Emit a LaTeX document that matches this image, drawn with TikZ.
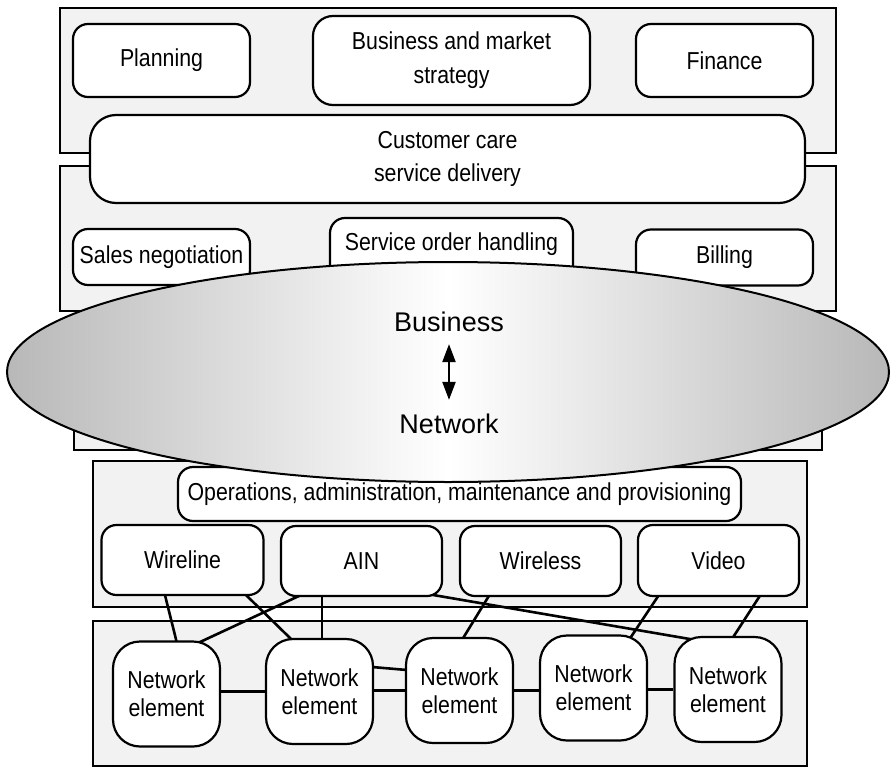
\documentclass[tikz,border=0pt]{standalone}
\usepackage{fontspec}
\setmainfont{Liberation Sans}
\newfontfamily\boxfont[FakeStretch=0.87]{Liberation Sans}
\usetikzlibrary{calc,shapes.geometric,arrows.meta}
\pgfdeclarelayer{panels}
\pgfdeclarelayer{wires}
\pgfsetlayers{panels,wires,main}
\definecolor{panelgray}{HTML}{F2F2F2}
\definecolor{edgegray}{HTML}{B8B8B8}
\tikzset{
  panel/.style={draw, line width=2.2pt, fill=panelgray},
  fnbox/.style={draw, line width=2.2pt, fill=white, rounded corners=15pt,
    align=center, inner sep=0pt, font=\boxfont\fontsize{24.5}{33}\selectfont},
  nebox/.style={fnbox, rounded corners=27pt, minimum width=107pt, minimum height=105pt,
    font=\boxfont\fontsize{24.5}{28}\selectfont},
  link/.style={line width=2.6pt},
  bigtext/.style={inner sep=0pt, font=\fontsize{27}{32}\selectfont},
  twoway/.style={line width=2.2pt,
    arrows={Triangle[length=18pt,width=13pt]-Triangle[length=18pt,width=13pt]}}
}
\begin{document}
\begin{tikzpicture}[x=1pt,y=-1pt]
\useasboundingbox (0,0) rectangle (891,768);

% background panels
\begin{pgfonlayer}{panels}
  \draw[panel] (60,8) rectangle (836,153);
  \draw[panel] (60,166) rectangle (836,311);
  \draw[panel] (74,330) rectangle (822,450);
  \draw[panel] (93,461) rectangle (807,607);
  \draw[panel] (93,621) rectangle (807,766);
\end{pgfonlayer}

% business layer
\node[fnbox, minimum width=177pt, minimum height=73pt] (plan) at (161.5,60.5) {Planning};
\node[fnbox, rounded corners=20pt, minimum width=277pt, minimum height=89pt,
  font=\boxfont\fontsize{24.5}{34}\selectfont] (bms) at (451.5,60.5) {Business and market\\strategy};
\node[fnbox, minimum width=177pt, minimum height=73pt] (fin) at (724.5,60.5) {Finance};
\node[fnbox, rounded corners=26pt, minimum width=715pt, minimum height=88pt] (cc) at (447.5,159) {Customer care\\service delivery};
\node[fnbox, minimum width=177pt, minimum height=56pt] (sales) at (161.5,257) {Sales negotiation};
\node[fnbox, minimum width=243pt, minimum height=64pt, text height=16pt, text depth=16pt] (soh) at (451.5,250) {Service order handling};
\node[fnbox, minimum width=177pt, minimum height=56pt] (bill) at (724.5,257.5) {Billing};

% network management layer
\node[fnbox, minimum width=563pt, minimum height=54pt] (oam) at (459.5,494) {Operations, administration, maintenance and provisioning};
\node[fnbox, minimum width=162pt, minimum height=70pt] (wire) at (182.5,560) {Wireline};
\node[fnbox, minimum width=161pt, minimum height=70pt] (ain) at (361.5,561) {AIN};
\node[fnbox, minimum width=161pt, minimum height=70pt] (wless) at (540.5,561) {Wireless};
\node[fnbox, minimum width=161pt, minimum height=71pt] (video) at (718.5,560.5) {Video};

% network elements
\node[nebox] (ne1) at (166.5,694) {Network\\element};
\node[nebox] (ne2) at (319.5,691.5) {Network\\element};
\node[nebox] (ne3) at (459.5,690.5) {Network\\element};
\node[nebox] (ne4) at (593.5,688) {Network\\element};
\node[nebox] (ne5) at (728,689.5) {Network\\element};

% links between systems and elements
\begin{pgfonlayer}{wires}
  \draw[link] ($(wire.south)+(-18,-3)$) -- ($(ne1.north)+(10.5,3)$);
  \draw[link] ($(wire.south)+(61.5,-3)$) -- ($(ne2.north)+(-26.5,3)$);
  \draw[link] ($(ain.south)+(-58.5,-3)$) -- ($(ne1.north)+(29.5,3.5)$);
  \draw[link] ($(ain.south)+(-39.5,-3)$) -- ($(ne2.north)+(2.5,3)$);
  \draw[link] ($(ain.south)+(66.5,-3)$) -- ($(ne5.north)+(-33,4)$);
  \draw[link] ($(wless.south)+(-50.5,-3)$) -- ($(ne3.north)+(2.5,3)$);
  \draw[link] ($(video.south)+(-59,-3)$) -- ($(ne4.north)+(35.5,5.5)$);
  \draw[link] ($(video.south)+(42.5,-3)$) -- ($(ne5.north)+(4,3)$);
  \draw[link] (ne1.east |- ne2.west) -- (ne2.west);
  \draw[link] (ne2.east |- ne3.west) -- (ne3.west);
  \draw[link] (ne3.east) -- (ne3.east -| ne4.west);
  \draw[link] (ne4.east |- ne5.west) -- (ne5.west);
  \draw[link] ($(ne2.east)+(-2,-24.5)$) -- ($(ne3.west)+(2,-20.5)$);
\end{pgfonlayer}

% business / network interface
\node[ellipse, draw, line width=2pt, minimum width=882pt, minimum height=220pt, inner sep=0pt,
  left color=edgegray, right color=edgegray, middle color=white] (iface) at (448,372) {};
\node[bigtext] (biz) at (449,322) {Business};
\node[bigtext] (net) at (449,424) {Network};
\draw[twoway] ($(biz.south)+(0,12)$) -- ($(net.north)+(0,-14)$);
\end{tikzpicture}
\end{document}
